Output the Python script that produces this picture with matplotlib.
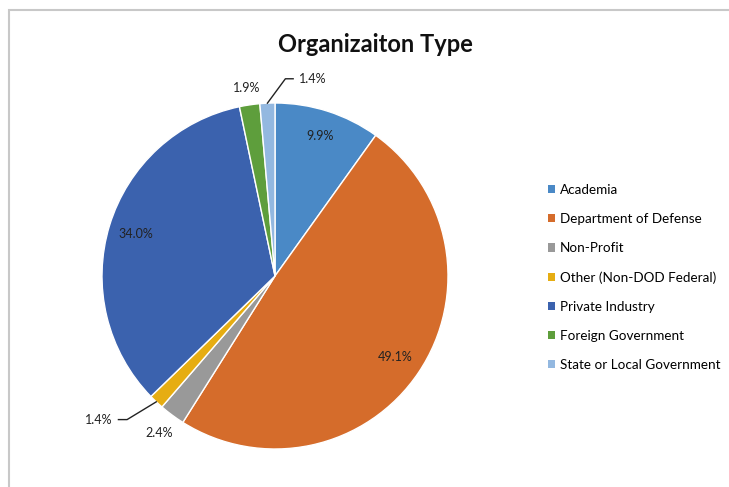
import numpy as np
import matplotlib
matplotlib.use("Agg")
import matplotlib.pyplot as plt
from matplotlib.patches import Patch, Rectangle

plt.rcParams["font.family"] = ["Lato", "DejaVu Sans"]

categories = [
    "Academia",
    "Department of Defense",
    "Non-Profit",
    "Other (Non-DOD Federal)",
    "Private Industry",
    "Foreign Government",
    "State or Local Government",
]
shares = [9.9, 49.1, 2.4, 1.4, 34.0, 1.9, 1.4]
colors = ["#4A89C6", "#D56C2B", "#999999", "#E6AD12", "#3B62AE", "#5E9E3C", "#93B8E0"]

fig = plt.figure(figsize=(7.29, 4.87), dpi=100)
W, H = 729, 487

# chart frame (left and top edges visible)
fig.add_artist(Rectangle((9 / W, -0.1), 1.2, (487 - 10) / H + 0.1,
                         transform=fig.transFigure, fill=False,
                         edgecolor="#c8c8c8", linewidth=1.5))

cx, cy, r = 275, 276, 173
ax = fig.add_axes([(cx - r) / W, (H - cy - r) / H, 2 * r / W, 2 * r / H])
wedges, _ = ax.pie(shares, colors=colors, startangle=90, counterclock=False,
                   radius=1, wedgeprops=dict(edgecolor="white", linewidth=1))
ax.set_xlim(-1, 1)
ax.set_ylim(-1, 1)
ax.set_aspect("equal")
ax.axis("off")

lab_fs = 9
# labels at wedge mid angles
inside = {0: 0.85, 1: 0.84, 4: 0.84}
outside = {2: 1.13, 5: 1.10}
for i, w in enumerate(wedges):
    ang = np.deg2rad((w.theta1 + w.theta2) / 2)
    txt = f"{shares[i]:.1f}%"
    if i in inside:
        d = inside[i]
    elif i in outside:
        d = outside[i]
    else:
        continue
    ax.text(d * np.cos(ang), d * np.sin(ang), txt, ha="center", va="center",
            fontsize=lab_fs, color="#222222")

# leader-line labels for the two thin slices
def leader(i, elbow, end, text_x, ha):
    w = wedges[i]
    ang = np.deg2rad((w.theta1 + w.theta2) / 2)
    p0 = (np.cos(ang), np.sin(ang))
    ax.plot([p0[0], elbow[0], end[0]], [p0[1], elbow[1], end[1]],
            color="#222222", linewidth=1, clip_on=False)
    ax.text(text_x, end[1], f"{shares[i]:.1f}%", ha=ha, va="center",
            fontsize=lab_fs, color="#222222")

leader(6, (0.06, 1.14), (0.105, 1.14), 0.14, "left")
leader(3, (-0.855, -0.83), (-0.905, -0.83), -0.94, "right")

fig.text(375 / W, 1 - 44 / H, "Organizaiton Type", ha="center", va="center",
         fontsize=17, fontweight="bold", color="#111111")

handles = [Patch(facecolor=c, edgecolor="none") for c in colors]
fig.legend(handles, categories, loc="upper left",
           bbox_to_anchor=(548 / W, 1 - 184 / H), frameon=False,
           fontsize=9.7, handlelength=0.55, handleheight=0.55, handletextpad=0.35,
           labelspacing=1.27, borderaxespad=0, borderpad=0)

fig.savefig("out.png", dpi=100)
